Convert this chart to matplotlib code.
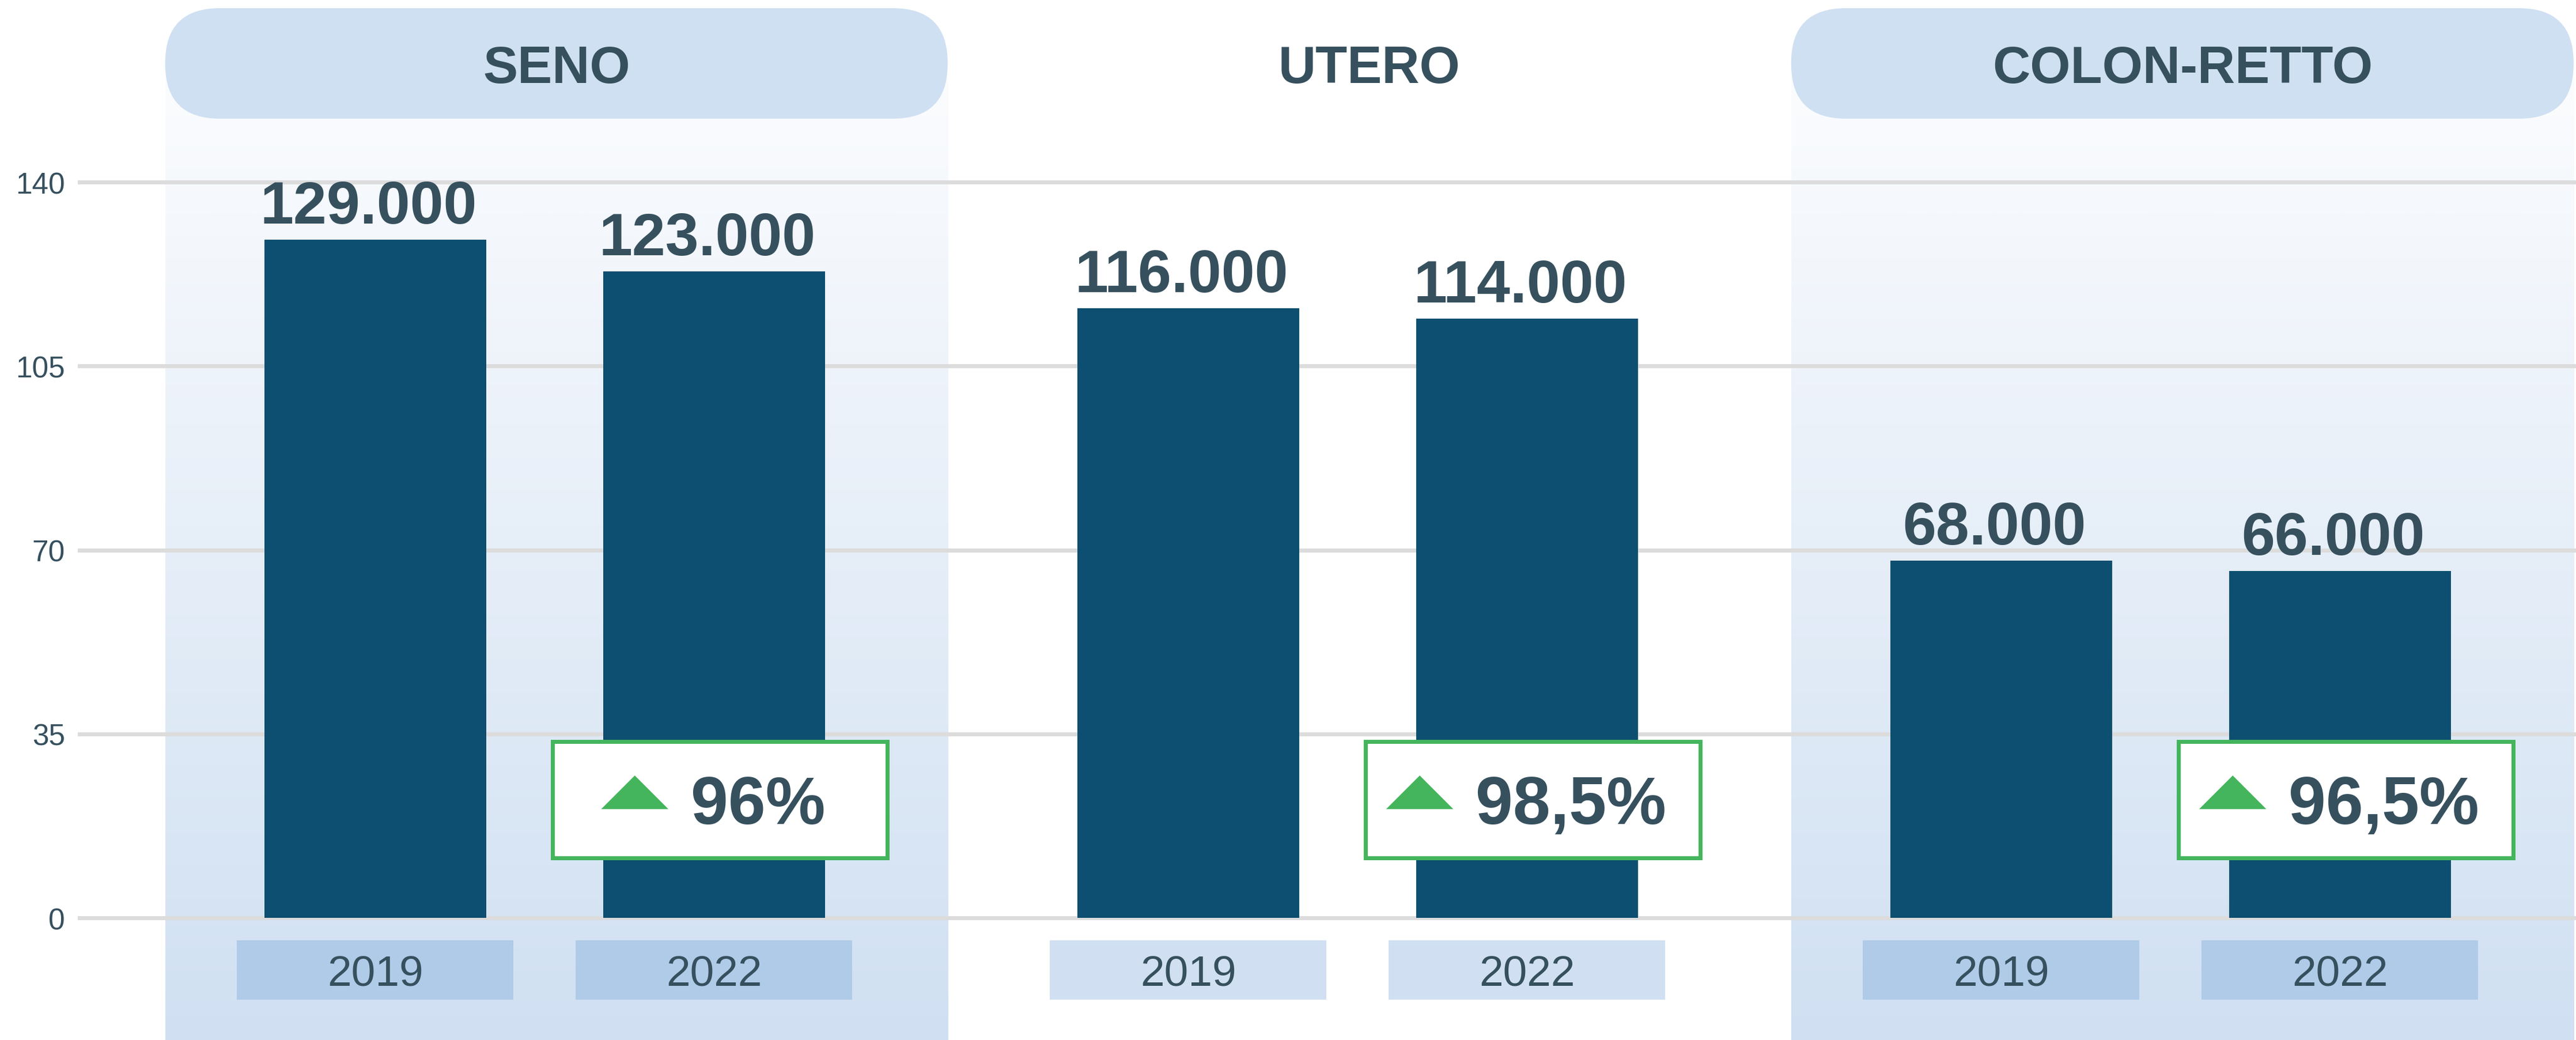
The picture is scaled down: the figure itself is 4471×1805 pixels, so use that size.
import numpy as np
import matplotlib
matplotlib.use("Agg")
import matplotlib.pyplot as plt
from matplotlib.patches import Rectangle, FancyBboxPatch, Polygon
from matplotlib.colors import LinearSegmentedColormap
from matplotlib.offsetbox import HPacker, TextArea, DrawingArea, AnnotationBbox

plt.rcParams['font.family'] = ['Liberation Sans', 'DejaVu Sans']

# data (thousands of women screened)
cancers = ['SENO', 'UTERO', 'COLON-RETTO']
years = ['2019', '2022']
v2019 = [129, 116, 68]
v2022 = [123, 114, 66]
pct_labels = ['96%', '98,5%', '96,5%']
shaded = [True, False, True]
yticks = [0, 35, 70, 105, 140]

TXT = '#36505e'
BAR = '#0d4f70'
GREEN = '#44b55c'
PILL = '#cfe0f2'

fig = plt.figure(figsize=(44.71, 18.06), dpi=100)
ax = fig.add_axes([135 / 4471, 0, 1 - 135 / 4471, 1])
xlim = (-0.878, 6.497)
ylim = (-23.24, 174.76)

group_gap = 2.40
bar_w = 0.655
group_x = np.arange(len(cancers)) * group_gap
x19 = group_x
x22 = group_x + 1.0
centers = (x19 + x22) / 2

ax.bar(x19, v2019, width=bar_w, color=BAR, zorder=2)
ax.bar(x22, v2022, width=bar_w, color=BAR, zorder=2)

# value labels
for xs, vals in [(x19, v2019), (x22, v2022)]:
    for x, v in zip(xs, vals):
        ax.text(x - 0.02, v + 3.2, f"{v * 1000:,}".replace(',', '.'), ha='center', va='baseline',
                fontsize=75, fontweight='bold', color=TXT, zorder=3)

# shaded panels with vertical gradient
cmap = LinearSegmentedColormap.from_list('pan', ['#d0e0f2', '#fbfcfe'])
grad = np.linspace(0, 1, 256).reshape(-1, 1)
ax_w_px = 4471 * (1 - 135 / 4471)
px_x = ax_w_px / (xlim[1] - xlim[0])
px_y = 1806 / (ylim[1] - ylim[0])
pill_hw = 1.155
pill_y0, pill_y1 = 152.07, 173.1
for i, c in enumerate(cancers):
    cx = centers[i] + 0.035
    if shaded[i]:
        ax.imshow(grad, cmap=cmap, origin='lower', aspect='auto', zorder=0.1,
                  extent=(cx - pill_hw, cx + pill_hw, ylim[0], 160), interpolation='bicubic')
        r = 95 / px_x
        pill = FancyBboxPatch((cx - pill_hw, pill_y0), 2 * pill_hw, pill_y1 - pill_y0,
                              boxstyle=f"round,pad=0,rounding_size={r}",
                              mutation_aspect=px_x / px_y, fc=PILL, ec='none', zorder=1)
        ax.add_patch(pill)
    ax.text(cx, (pill_y0 + pill_y1) / 2, c, ha='center', va='center_baseline',
            fontsize=65, fontweight='bold', color=TXT, zorder=3)

# year boxes under bars
for i in range(len(cancers)):
    box_c = '#afcbe8' if shaded[i] else '#d0e0f2'
    for x, yr in [(x19[i], years[0]), (x22[i], years[1])]:
        ax.add_patch(Rectangle((x - 0.408, -15.57), 0.816, 11.29, fc=box_c, ec='none', zorder=1))
        ax.text(x, -9.93, yr, ha='center', va='center_baseline', fontsize=54, color=TXT, zorder=3)

# percentage boxes
for i in range(len(cancers)):
    bx = x22[i] + 0.018
    ax.add_patch(Rectangle((bx - 0.494, 11.45), 0.988, 22.15, fc='white', ec=GREEN,
                           lw=5, zorder=4))
    da = DrawingArea(84, 76, 0, 0)
    da.add_artist(Polygon([[0, 34], [84, 34], [42, 76]], closed=True, fc=GREEN, ec='none'))
    ta = TextArea(pct_labels[i], textprops=dict(fontsize=84, fontweight='bold', color=TXT))
    pack = HPacker(children=[da, ta], align='center', pad=0, sep=28)
    ab = AnnotationBbox(pack, (bx - 0.02, 21.3), frameon=False, box_alignment=(0.5, 0.5),
                        pad=0, zorder=5)
    ax.add_artist(ab)

ax.set_xlim(*xlim)
ax.set_ylim(*ylim)
ax.set_yticks(yticks)
ax.set_xticks([])
ax.tick_params(axis='y', length=0, pad=16, labelsize=37, labelcolor=TXT)
ax.yaxis.grid(True, color='#dcdcdc', lw=5)
ax.set_axisbelow(True)
for s in ax.spines.values():
    s.set_visible(False)
ax.patch.set_alpha(0)

fig.savefig('out.png', dpi=100)
